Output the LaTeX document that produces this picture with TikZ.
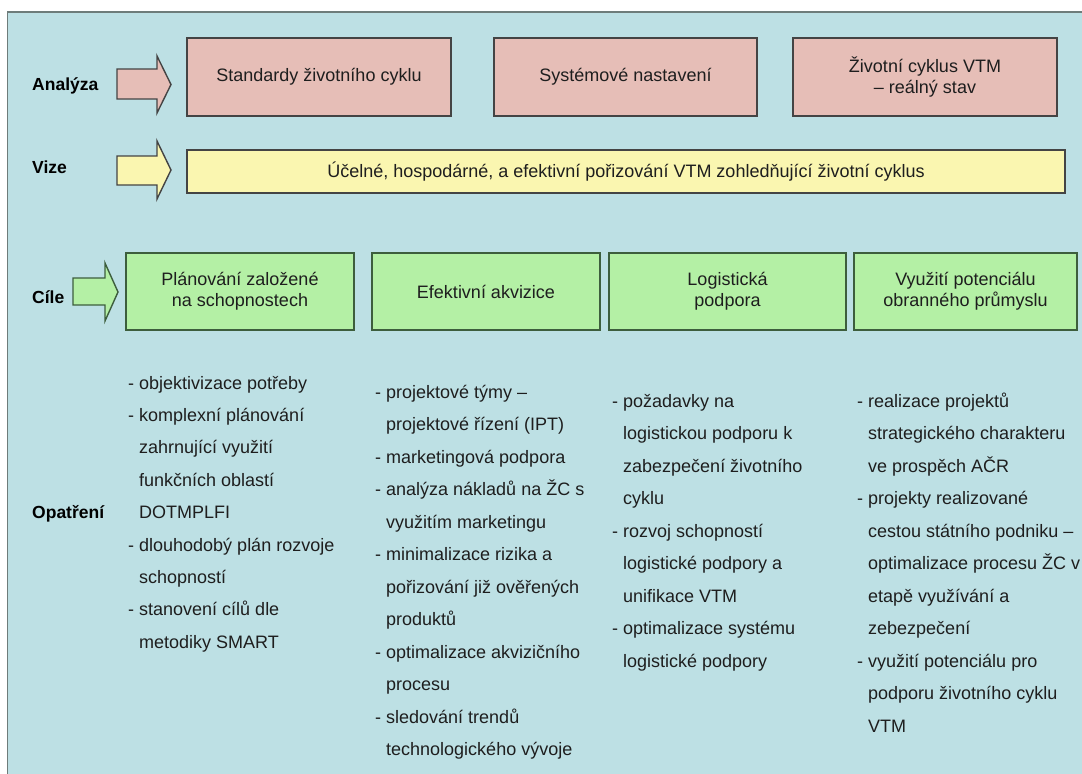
\documentclass[tikz,border=0pt]{standalone}
\usepackage{fontspec}
\setmainfont{Liberation Sans}
\newcommand\bxfont{\fontsize{18}{21}\selectfont}
\newcommand\lstfont{\fontsize{18}{21}\selectfont}
\newcommand\lblfont{\fontsize{17.5}{21}\selectfont\bfseries}
\definecolor{panel}{HTML}{BDE0E4}
\definecolor{panelline}{HTML}{6E7C7A}
\definecolor{pinkfill}{HTML}{E6BEB7}
\definecolor{yellowfill}{HTML}{FAF6B0}
\definecolor{greenfill}{HTML}{B4F0A5}
\definecolor{boxline}{HTML}{444444}
\definecolor{greenline}{HTML}{3D5E3D}
\definecolor{ink}{HTML}{1E1E1E}
\begin{document}
\begin{tikzpicture}[x=1pt,y=-1pt,
  box/.style={draw=boxline, line width=1.4pt, inner sep=0pt, align=center,
              font=\bxfont, text=ink},
  pinkbox/.style={box, fill=pinkfill, minimum height=78},
  goalbox/.style={box, fill=greenfill, draw=greenline, minimum height=77},
  fatarrow/.style={draw=boxline, line width=1.4pt, line join=miter},
  lbl/.style={font=\lblfont, text=black, inner sep=0pt, anchor=base west},
  lst/.style={font=\lstfont, text=ink, inner sep=0pt, anchor=base west}]
\useasboundingbox (0,0) rectangle (1082,774);
\clip (0,0) rectangle (1082,774);

% panel
\fill[panel] (7,12) rectangle (1090,780);
\draw[panelline, line width=1pt] (7,12) -- (7,780);
\draw[panelline, line width=2pt] (7,12) -- (1090,12);

% row labels
\node[lbl] (lanal) at (32,90) {Analýza};
\node[lbl] (lvize) at (32,173) {Vize};
\node[lbl] (lcile) at (32,303) {Cíle};
\node[lbl] (lopat) at (32,518.6) {Opatření};

% block arrows
\draw[fatarrow, fill=pinkfill]
  (117,69) -- (157,69) -- (157,56) -- (171,84.5) -- (157,113) -- (157,99) -- (117,99) -- cycle;
\draw[fatarrow, fill=yellowfill]
  (117,156) -- (157,156) -- (157,141) -- (171,170) -- (157,199) -- (157,185) -- (117,185) -- cycle;
\draw[fatarrow, fill=greenfill, draw=greenline]
  (73,278) -- (105,278) -- (105,263) -- (118,292) -- (105,321) -- (105,305) -- (73,305) -- cycle;

% analysis
\node[pinkbox, minimum width=264] (a1) at (319,77) {Standardy životního cyklu};
\node[pinkbox, minimum width=263] (a2) at (625.5,77) {Systémové nastavení};
\node[pinkbox, minimum width=264] (a3) at (925,77) {Životní cyklus VTM\\ – reálný stav};

% vision
\node[box, fill=yellowfill, minimum width=878, minimum height=43] (v) at (626,171.5)
  {Účelné, hospodárné, a efektivní pořizování VTM zohledňující životní cyklus};

% goals
\node[goalbox, minimum width=228] (g1) at (240,291.5) {Plánování založené\\na schopnostech};
\node[goalbox, minimum width=228] (g2) at (486,291.5) {Efektivní akvizice};
\node[goalbox, minimum width=237] (g3) at (727.5,291.5) {Logistická\\podpora};
\node[goalbox, minimum width=223] (g4) at (965.5,291.5) {Využití potenciálu\\obranného průmyslu};

% measures
\foreach \t [count=\i] in {{- objektivizace potřeby},{- komplexní plánování},
    {\phantom{- }zahrnující využití},{\phantom{- }funkčních oblastí},{\phantom{- }DOTMPLFI},
    {- dlouhodobý plán rozvoje},{\phantom{- }schopností},{- stanovení cílů dle},
    {\phantom{- }metodiky SMART}}
  \node[lst] (ma\i) at (128,{389+32.4*(\i-1)}) {\t};

\foreach \t [count=\i] in {{- projektové týmy –},{\phantom{- }projektové řízení (IPT)},
    {- marketingová podpora},{- analýza nákladů na ŽC s},{\phantom{- }využitím marketingu},
    {- minimalizace rizika a},{\phantom{- }pořizování již ověřených},{\phantom{- }produktů},
    {- optimalizace akvizičního},{\phantom{- }procesu},{- sledování trendů},
    {\phantom{- }technologického vývoje}}
  \node[lst] (mb\i) at (375,{398+32.5*(\i-1)}) {\t};

\foreach \t [count=\i] in {{- požadavky na},{\phantom{- }logistickou podporu k},
    {\phantom{- }zabezpečení životního},{\phantom{- }cyklu},{- rozvoj schopností},
    {\phantom{- }logistické podpory a},{\phantom{- }unifikace VTM},
    {- optimalizace systému},{\phantom{- }logistické podpory}}
  \node[lst] (mc\i) at (612,{407+32.5*(\i-1)}) {\t};

\foreach \t [count=\i] in {{- realizace projektů},{\phantom{- }strategického charakteru},
    {\phantom{- }ve prospěch AČR},{- projekty realizované},
    {\phantom{- }cestou státního podniku –},{\phantom{- }optimalizace procesu ŽC v},
    {\phantom{- }etapě využívání a},{\phantom{- }zebezpečení},
    {- využití potenciálu pro},{\phantom{- }podporu životního cyklu},{\phantom{- }VTM}}
  \node[lst] (md\i) at (857,{407+32.5*(\i-1)}) {\t};
\end{tikzpicture}
\end{document}
